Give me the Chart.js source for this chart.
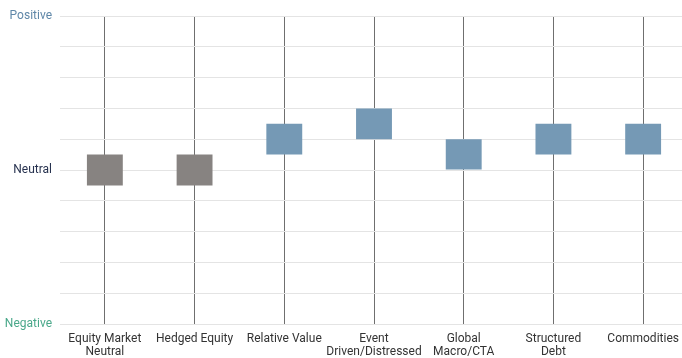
<!DOCTYPE html>
<html>
<head>
<meta charset="utf-8">
<script src="https://cdn.jsdelivr.net/npm/chart.js@4/dist/chart.umd.min.js"></script>
<style>
  html, body { margin: 0; padding: 0; background: #ffffff; overflow: hidden; }
  /* plot runs slightly past the right edge of the page */
  #wrap { width: 688px; height: 358px; position: relative; }
</style>
</head>
<body>
<div id="wrap"><canvas id="outlook"></canvas></div>
<script>
// Strategy categories (multi-line labels)
const strategies = [
  ['Equity Market', 'Neutral'],
  'Hedged Equity',
  'Relative Value',
  ['Event', 'Driven/Distressed'],
  ['Global', 'Macro/CTA'],
  ['Structured', 'Debt'],
  'Commodities'
];

// Outlook band for each strategy on a -5 (negative) .. +5 (positive) scale
const outlookLow  = [-0.5, -0.5, 0.5, 1.0, 0.0, 0.5, 0.5];
const outlookHigh = [ 0.5,  0.5, 1.5, 2.0, 1.0, 1.5, 1.5];

// Named positions on the sentiment axis
const scaleLabels = { '5': 'Positive', '0': 'Neutral', '-5': 'Negative' };
const scaleLabelColors = { '5': '#5f87a8', '0': '#27324f', '-5': '#4aa88a' };

const bands = outlookLow.map((lo, i) => [lo, outlookHigh[i]]);
// Neutral-centred bands in grey, tilted-positive bands in blue
const barColors = outlookLow.map((lo, i) => (lo + outlookHigh[i]) / 2 === 0 ? '#878381' : '#7599b5');

new Chart(document.getElementById('outlook'), {
  type: 'bar',
  data: {
    labels: strategies,
    datasets: [{
      data: bands,
      backgroundColor: barColors,
      borderWidth: 0,
      borderSkipped: false,
      barPercentage: 0.4,
      categoryPercentage: 1.0
    }]
  },
  options: {
    responsive: true,
    maintainAspectRatio: false,
    animation: false,
    layout: { padding: { top: 16, right: 0, bottom: 0, left: 0 } },
    plugins: { legend: { display: false }, tooltip: { enabled: false } },
    scales: {
      x: {
        offset: true,
        border: { display: false },
        grid: {
          offset: false,
          drawTicks: false,
          color: '#6f6f6f',
          lineWidth: 1
        },
        ticks: {
          color: '#333333',
          font: { family: 'Roboto', size: 12, lineHeight: 1.1 },
          padding: 8,
          maxRotation: 0,
          autoSkip: false
        },
        afterFit: (s) => { s.height = 34; }
      },
      y: {
        min: -5,
        max: 5,
        border: { display: false },
        grid: {
          drawTicks: false,
          color: '#e4e4e4',
          lineWidth: 1
        },
        ticks: {
          stepSize: 1,
          padding: 8,
          font: { family: 'Roboto', size: 12 },
          color: (ctx) => scaleLabelColors[String(ctx.tick.value)] || '#333333',
          callback: (v) => scaleLabels[String(v)] || ''
        },
        afterFit: (s) => { s.width = 60; }
      }
    }
  }
});
</script>
</body>
</html>
